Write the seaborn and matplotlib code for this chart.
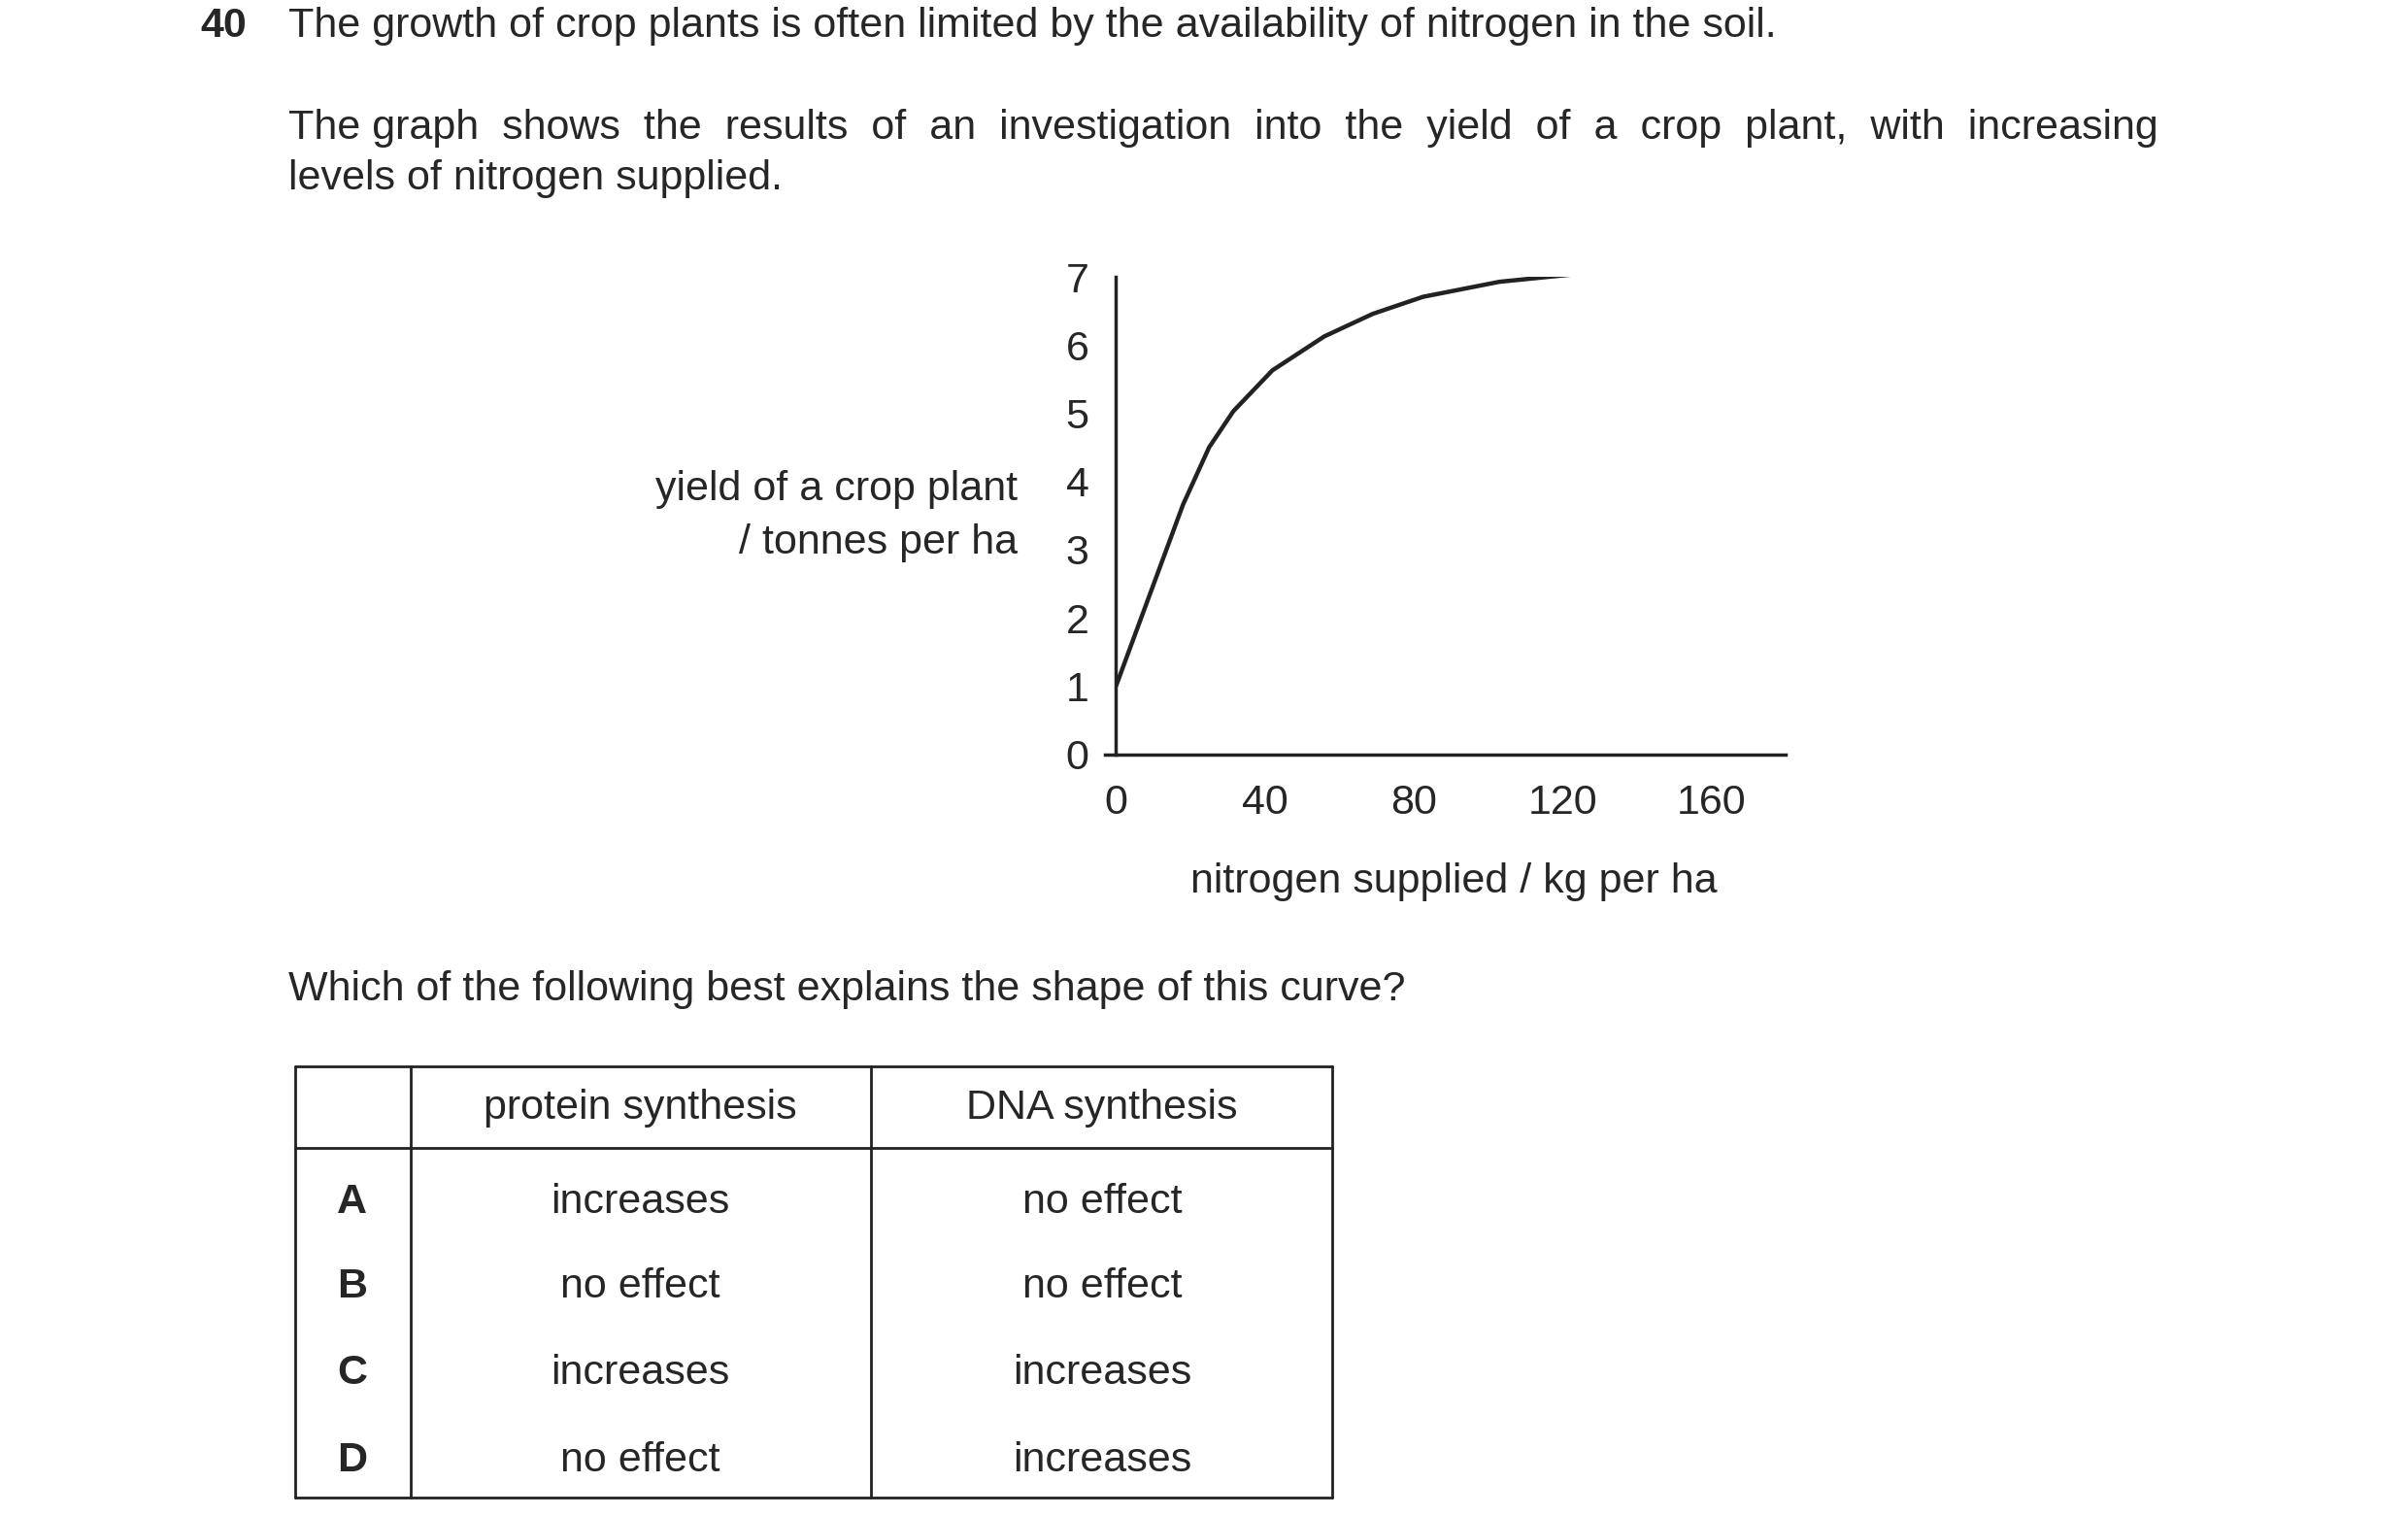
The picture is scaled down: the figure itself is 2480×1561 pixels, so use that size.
import numpy as np
import matplotlib
matplotlib.use("Agg")
import matplotlib.pyplot as plt
import seaborn as sns
from matplotlib.lines import Line2D

# DATA.

nitrogen = [0, 18, 25, 31.5, 42, 56, 69, 82.5, 103, 123, 143, 174.5]
yield_t = [1.0, 3.66, 4.5, 5.03, 5.63, 6.13, 6.46, 6.71, 6.93, 7.04, 7.11, 7.13]
x_labels = [0, 40, 80, 120, 160]
y_ticks = list(range(8))

col_headers = ["protein synthesis", "DNA synthesis"]
row_letters = ["A", "B", "C", "D"]
protein_col = ["increases", "no effect", "increases", "no effect"]
dna_col = ["no effect", "no effect", "increases", "increases"]

sns.set_style("white")
plt.rcParams["font.family"] = ["Liberation Sans", "DejaVu Sans"]

W, H = 1560, 985  # reference layout units
fig = plt.figure(figsize=(24.8, 15.61), dpi=100)
FS = 31

def fx(x):
    return x / W

def fy(y):
    return 1 - y / H

# TEXT.

fig.text(fx(130), fy(17), "40", fontsize=FS, weight="bold", va="center")
fig.text(fx(187), fy(17), "The growth of crop plants is often limited by the availability of nitrogen in the soil.",
         fontsize=FS, va="center")
fig.text(fx(187), fy(83), "The graph  shows  the  results  of  an  investigation  into  the  yield  of  a  crop  plant,  with  increasing",
         fontsize=FS, va="center")
fig.text(fx(187), fy(116), "levels of nitrogen supplied.", fontsize=FS, va="center")
fig.text(fx(187), fy(643), "Which of the following best explains the shape of this curve?", fontsize=FS, va="center")

# GRAPH.

ax = fig.add_axes([fx(723), fy(490), fx(1157) - fx(723), fy(180) - fy(490)])
sns.lineplot(x=nitrogen, y=yield_t, ax=ax, color="#222222", linewidth=3.2)
ax.set_xlim(0, 180)
ax.set_ylim(0, 7)
ax.set_xticks(np.arange(0, 181, 20))
ax.set_xticklabels([str(v) if v in x_labels else "" for v in range(0, 181, 20)])
ax.set_yticks(y_ticks)
ax.tick_params(axis="both", direction="out", length=16, width=2.5, labelsize=FS, color="#222222", pad=6)
ax.tick_params(axis="y", pad=4)
for s in ["top", "right"]:
    ax.spines[s].set_visible(False)
for s in ["left", "bottom"]:
    ax.spines[s].set_linewidth(2.5)
    ax.spines[s].set_color("#222222")
ax.spines["bottom"].set_bounds(-3, 180)
ax.spines["bottom"].set_clip_on(False)

fig.text(fx(659), fy(318), "yield of a crop plant", fontsize=FS, ha="right", va="center")
fig.text(fx(659), fy(353), "/ tonnes per ha", fontsize=FS, ha="right", va="center")
fig.text(fx(942), fy(573), "nitrogen supplied / kg per ha", fontsize=FS, ha="center", va="center")

# TABLE.

def line(x0, y0, x1, y1):
    fig.add_artist(Line2D([fx(x0), fx(x1)], [fy(y0), fy(y1)], color="#222222", linewidth=2))

left, right, top, bottom = 191, 863, 693, 973
line(left, top, right, top)
line(left, bottom, right, bottom)
line(left, top, left, bottom)
line(right, top, right, bottom)
line(266, top, 266, bottom)
line(564, top, 564, bottom)
line(left, 746, right, 746)

fig.text(fx(415), fy(720), col_headers[0], fontsize=FS, ha="center", va="center")
fig.text(fx(714), fy(720), col_headers[1], fontsize=FS, ha="center", va="center")
row_y = [781, 836, 892, 949]
for letter, p, d, yy in zip(row_letters, protein_col, dna_col, row_y):
    fig.text(fx(228), fy(yy), letter, fontsize=FS, weight="bold", ha="center", va="center")
    fig.text(fx(415), fy(yy), p, fontsize=FS, ha="center", va="center")
    fig.text(fx(714), fy(yy), d, fontsize=FS, ha="center", va="center")

fig.savefig("out.png", dpi=100, facecolor="white")
